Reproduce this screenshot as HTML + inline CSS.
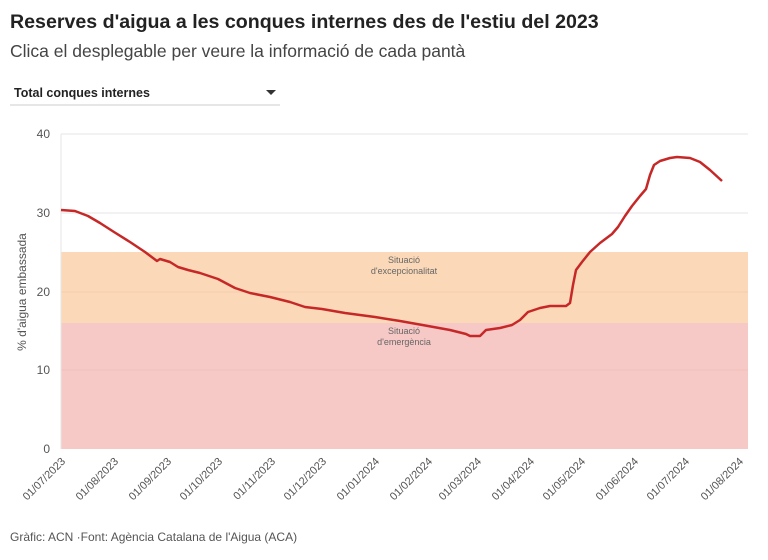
<!DOCTYPE html>
<html><head><meta charset="utf-8"><style>
body{margin:0;width:768px;height:555px;background:#fff;font-family:"Liberation Sans",sans-serif;overflow:hidden}
</style></head><body>
<svg width="768" height="555" xmlns="http://www.w3.org/2000/svg" font-family="Liberation Sans, sans-serif">
<text x="10" y="28" font-size="19.6" font-weight="bold" fill="#222">Reserves d'aigua a les conques internes des de l'estiu del 2023</text>
<text x="10" y="57" font-size="17.5" fill="#444">Clica el desplegable per veure la informació de cada pantà</text>
<text x="14" y="97" font-size="12.5" font-weight="bold" fill="#222">Total conques internes</text>
<polygon points="266,90 276,90 271,95" fill="#333"/>
<line x1="10" y1="105" x2="280" y2="105" stroke="#ccc"/>
<rect x="61" y="252" width="687" height="71" fill="#fbd9b8"/>
<rect x="61" y="323" width="687" height="126" fill="#f7c9c6"/>
<g stroke="#e6e6e6" stroke-width="1">
<line x1="61" y1="134" x2="748" y2="134"/><line x1="61" y1="213" x2="748" y2="213"/>
<line x1="61" y1="292" x2="748" y2="292" stroke="#eebfa0" stroke-opacity=".5"/><line x1="61" y1="370" x2="748" y2="370" stroke="#eab3b0" stroke-opacity=".5"/>
<line x1="61" y1="134" x2="61" y2="449"/>
</g>
<g font-size="12" fill="#555" text-anchor="end">
<text x="50" y="138">40</text><text x="50" y="217">30</text><text x="50" y="296">20</text><text x="50" y="374">10</text><text x="50" y="453">0</text>
</g>
<text transform="translate(26,292) rotate(-90)" font-size="12" fill="#555" text-anchor="middle">% d'aigua embassada</text>
<g font-size="9" fill="#666" text-anchor="middle">
<text x="404" y="263">Situació</text><text x="404" y="274">d'excepcionalitat</text>
<text x="404" y="334">Situació</text><text x="404" y="345">d'emergència</text>
</g>
<polyline fill="none" stroke="#c62828" stroke-width="2.5" stroke-linejoin="round" points="61,210 75,211 88,216 100,223 114,232 130,242 145,252 157,261 160,259 170,262 178,267 188,270 200,273 218,279 235,288 250,293 270,297 290,302 305,307 322,309 345,313 375,317 400,321 428,326 450,330 466,334 470,336 480,336 486,330 500,328 512,325 520,320 523,317 528,312 540,308 550,306 566,306 570,303 573,285 576,270 582,262 590,252 600,243 612,234 618,227 625,216 632,206 640,196 646,189 650,175 654,165 660,161 670,158 677,157 690,158 700,162 710,170 722,181"/>
<g font-size="11" fill="#555" text-anchor="end">
<text transform="translate(66,462) rotate(-45)">01/07/2023</text>
<text transform="translate(119,462) rotate(-45)">01/08/2023</text>
<text transform="translate(172,462) rotate(-45)">01/09/2023</text>
<text transform="translate(223,462) rotate(-45)">01/10/2023</text>
<text transform="translate(276,462) rotate(-45)">01/11/2023</text>
<text transform="translate(327,462) rotate(-45)">01/12/2023</text>
<text transform="translate(380,462) rotate(-45)">01/01/2024</text>
<text transform="translate(433,462) rotate(-45)">01/02/2024</text>
<text transform="translate(482,462) rotate(-45)">01/03/2024</text>
<text transform="translate(535,462) rotate(-45)">01/04/2024</text>
<text transform="translate(586,462) rotate(-45)">01/05/2024</text>
<text transform="translate(639,462) rotate(-45)">01/06/2024</text>
<text transform="translate(690,462) rotate(-45)">01/07/2024</text>
<text transform="translate(744,462) rotate(-45)">01/08/2024</text>
</g>
<text x="10" y="541" font-size="12" fill="#555">Gràfic: ACN ·Font: Agència Catalana de l'Aigua (ACA)</text>
</svg>
</body></html>
